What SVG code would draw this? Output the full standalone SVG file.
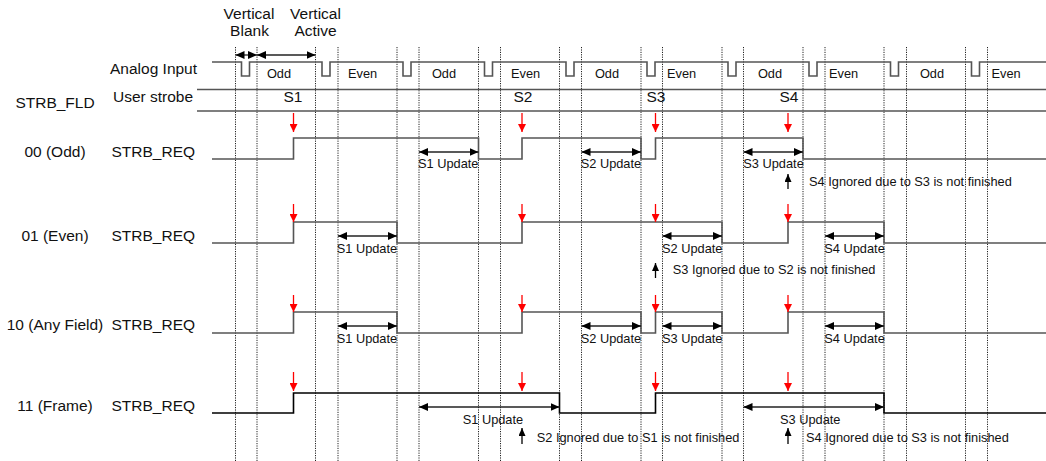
<svg xmlns="http://www.w3.org/2000/svg" width="1046" height="461" viewBox="0 0 1046 461">
<style>
text{font-family:"Liberation Sans",Arial,sans-serif;fill:#111}
.lg{font-size:15.5px}
.sm{font-size:12.8px}
.mid{text-anchor:middle}
.grid line{stroke:#222;stroke-width:1;stroke-dasharray:1.2 1.2}
.wave{fill:none;stroke:#555;stroke-width:1.6}
.wave4{fill:none;stroke:#000;stroke-width:1.6}
.hl{stroke:#555;stroke-width:1.4}
.dbl{stroke:#222;stroke-width:1.3;marker-start:url(#ah);marker-end:url(#ah)}
.red{stroke:#f00;stroke-width:1.3;marker-end:url(#rh)}
.up{stroke:#000;stroke-width:1.3;marker-end:url(#uh)}
</style>
<defs>
<marker id="ah" markerUnits="userSpaceOnUse" markerWidth="9" markerHeight="8" refX="9" refY="4" orient="auto-start-reverse"><path d="M0,0 L9,4 L0,8 z" fill="#000"/></marker>
<marker id="rh" markerUnits="userSpaceOnUse" markerWidth="8" markerHeight="8" refX="8" refY="4" orient="auto"><path d="M0,0 L8,4 L0,8 z" fill="#f00"/></marker>
<marker id="uh" markerUnits="userSpaceOnUse" markerWidth="8" markerHeight="7" refX="8" refY="3.5" orient="auto"><path d="M0,0 L8,3.5 L0,7 z" fill="#000"/></marker>
</defs>
<rect width="1046" height="461" fill="#fff"/>

<g id="grid" class="grid">
<line x1="235.5" y1="47" x2="235.5" y2="461"/><line x1="257" y1="47" x2="257" y2="461"/>
<line x1="315.5" y1="47" x2="315.5" y2="461"/><line x1="338" y1="47" x2="338" y2="461"/>
<line x1="397" y1="47" x2="397" y2="461"/><line x1="419" y1="47" x2="419" y2="461"/>
<line x1="478.5" y1="47" x2="478.5" y2="461"/><line x1="500.5" y1="47" x2="500.5" y2="461"/>
<line x1="559.5" y1="47" x2="559.5" y2="461"/><line x1="581.5" y1="47" x2="581.5" y2="461"/>
<line x1="641" y1="47" x2="641" y2="461"/><line x1="662.5" y1="47" x2="662.5" y2="461"/>
<line x1="722" y1="47" x2="722" y2="461"/><line x1="743.5" y1="47" x2="743.5" y2="461"/>
<line x1="803" y1="47" x2="803" y2="461"/><line x1="825" y1="47" x2="825" y2="461"/>
<line x1="884" y1="47" x2="884" y2="461"/><line x1="906.5" y1="47" x2="906.5" y2="461"/>
<line x1="965.5" y1="47" x2="965.5" y2="461"/><line x1="987.5" y1="47" x2="987.5" y2="461"/>
</g>

<g id="header">
<text class="lg mid" x="249" y="19">Vertical</text>
<text class="lg mid" x="249.5" y="36">Blank</text>
<text class="lg mid" x="315.5" y="19">Vertical</text>
<text class="lg mid" x="315.5" y="36">Active</text>
<line class="dbl" x1="235.5" y1="55" x2="257" y2="55"/>
<line class="dbl" x1="257" y1="55" x2="315.5" y2="55"/>
</g>

<g id="analog-input">
<text class="lg" x="110" y="74">Analog Input</text>
<path class="wave" d="M212,62 H241.5 V76 H249.5 V62 H322 V76 H330 V62 H403 V76 H411 V62 H484.5 V76 H492.5 V62 H566 V76 H574 V62 H647 V76 H655 V62 H728 V76 H736 V62 H809 V76 H817 V62 H890.5 V76 H898.5 V62 H971.5 V76 H979.5 V62 H1046"/>
<text class="sm mid" x="279" y="78">Odd</text>
<text class="sm" x="348" y="78">Even</text>
<text class="sm mid" x="444" y="78">Odd</text>
<text class="sm" x="511" y="78">Even</text>
<text class="sm mid" x="607" y="78">Odd</text>
<text class="sm" x="667" y="78">Even</text>
<text class="sm mid" x="770" y="78">Odd</text>
<text class="sm" x="829" y="78">Even</text>
<text class="sm mid" x="932" y="78">Odd</text>
<text class="sm" x="991.5" y="78">Even</text>
</g>

<g id="user-strobe">
<text class="lg mid" x="55" y="108">STRB_FLD</text>
<text class="lg" x="113" y="102">User strobe</text>
<line class="hl" x1="197" y1="89.5" x2="1046" y2="89.5"/>
<line class="hl" x1="197" y1="111" x2="1046" y2="111"/>
<text class="lg mid" x="293" y="102">S1</text>
<text class="lg mid" x="523" y="102">S2</text>
<text class="lg mid" x="656" y="102">S3</text>
<text class="lg mid" x="789" y="102">S4</text>
</g>

<g id="row-00-odd">
<text class="lg mid" x="55" y="157">00 (Odd)</text>
<text class="lg" x="111.5" y="157">STRB_REQ</text>
<path class="wave" d="M212,159 H293.5 V138 H478.5 V159 H522 V138 H641 V159 H655.5 V138 H803 V159 H1046"/>
<text class="sm" x="418" y="168">S1 Update</text>
<text class="sm" x="580.7" y="168">S2 Update</text>
<text class="sm" x="743.3" y="168">S3 Update</text>
<text class="sm" x="809" y="186">S4 Ignored due to S3 is not finished</text>
</g>

<g id="row-01-even">
<text class="lg mid" x="55" y="241">01 (Even)</text>
<text class="lg" x="111.5" y="241">STRB_REQ</text>
<path class="wave" d="M212,243 H293.5 V222 H397 V243 H522 V222 H722 V243 H788 V222 H884 V243 H1046"/>
<text class="sm" x="336.7" y="253">S1 Update</text>
<text class="sm" x="662" y="253">S2 Update</text>
<text class="sm" x="824.3" y="253">S4 Update</text>
<text class="sm" x="672.7" y="274">S3 Ignored due to S2 is not finished</text>
</g>

<g id="row-10-any">
<text class="lg mid" x="55" y="330">10 (Any Field)</text>
<text class="lg" x="111.5" y="330">STRB_REQ</text>
<path class="wave" d="M212,333 H293.5 V312 H397 V333 H522 V312 H641 V333 H655.5 V312 H722 V333 H788 V312 H884 V333 H1046"/>
<text class="sm" x="336.7" y="343">S1 Update</text>
<text class="sm" x="580.7" y="343">S2 Update</text>
<text class="sm" x="662" y="343">S3 Update</text>
<text class="sm" x="824.3" y="343">S4 Update</text>
</g>

<g id="row-11-frame">
<text class="lg mid" x="55" y="411">11 (Frame)</text>
<text class="lg" x="111.5" y="411">STRB_REQ</text>
<path class="wave4" d="M212,413 H293.5 V393 H559.5 V413 H655.5 V393 H884 V413 H1046"/>
<text class="sm" x="462.7" y="424">S1 Update</text>
<text class="sm" x="780" y="424">S3 Update</text>
<text class="sm" x="536.7" y="442">S2 Ignored due to S1 is not finished</text>
<text class="sm" x="806" y="442">S4 Ignored due to S3 is not finished</text>
</g>

<g id="connectors">
<line class="red" x1="293.5" y1="113" x2="293.5" y2="132"/>
<line class="red" x1="522" y1="113" x2="522" y2="132"/>
<line class="red" x1="655.5" y1="113" x2="655.5" y2="132"/>
<line class="red" x1="788" y1="113" x2="788" y2="132"/>
<line class="red" x1="293.5" y1="204" x2="293.5" y2="222"/>
<line class="red" x1="522" y1="204" x2="522" y2="222"/>
<line class="red" x1="655.5" y1="204" x2="655.5" y2="222"/>
<line class="red" x1="788" y1="204" x2="788" y2="222"/>
<line class="red" x1="293.5" y1="295" x2="293.5" y2="312"/>
<line class="red" x1="522" y1="295" x2="522" y2="312"/>
<line class="red" x1="655.5" y1="295" x2="655.5" y2="312"/>
<line class="red" x1="788" y1="295" x2="788" y2="312"/>
<line class="red" x1="293.5" y1="372" x2="293.5" y2="391"/>
<line class="red" x1="522" y1="372" x2="522" y2="391"/>
<line class="red" x1="655.5" y1="372" x2="655.5" y2="391"/>
<line class="red" x1="788" y1="372" x2="788" y2="391"/>

<line class="dbl" x1="419" y1="152" x2="478.5" y2="152"/>
<line class="dbl" x1="581.5" y1="152" x2="641" y2="152"/>
<line class="dbl" x1="743.5" y1="152" x2="803" y2="152"/>
<line class="dbl" x1="338" y1="236" x2="397" y2="236"/>
<line class="dbl" x1="662.5" y1="236" x2="722" y2="236"/>
<line class="dbl" x1="825" y1="236" x2="884" y2="236"/>
<line class="dbl" x1="338" y1="326" x2="397" y2="326"/>
<line class="dbl" x1="581.5" y1="326" x2="641" y2="326"/>
<line class="dbl" x1="662.5" y1="326" x2="722" y2="326"/>
<line class="dbl" x1="825" y1="326" x2="884" y2="326"/>
<line class="dbl" x1="419" y1="407" x2="559.5" y2="407"/>
<line class="dbl" x1="743.5" y1="407" x2="884" y2="407"/>

<line class="up" x1="788" y1="189" x2="788" y2="174"/>
<line class="up" x1="655.5" y1="278" x2="655.5" y2="263"/>
<line class="up" x1="522" y1="444" x2="522" y2="428"/>
<line class="up" x1="788" y1="444" x2="788" y2="428"/>
</g>
</svg>
